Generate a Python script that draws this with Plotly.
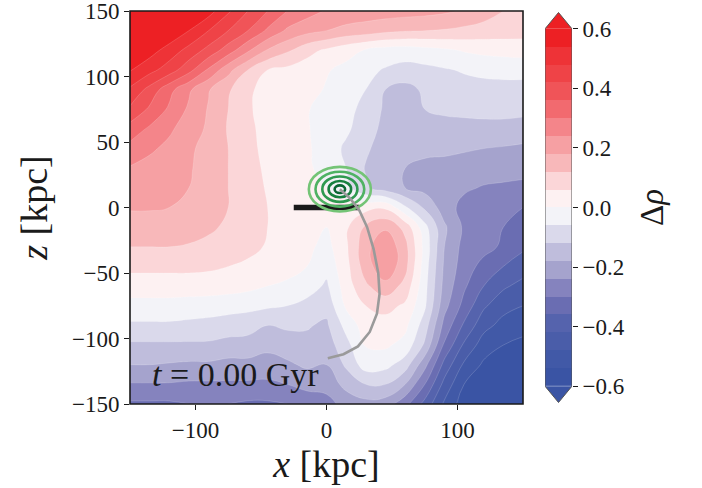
import plotly.graph_objects as go

# ---- density-contrast field on a regular (x, z) grid [kpc] ----
x_kpc = [-150, -135, -120, -105, -90, -75, -60, -45, -30, -15, 0,
         15, 30, 45, 60, 75, 90, 105, 120, 135, 150]
z_kpc = [150, 135, 120, 105, 90, 75, 60, 45, 30, 15, 0,
         -15, -30, -45, -60, -75, -90, -105, -120, -135, -150]

# rows follow z_kpc (top to bottom), columns follow x_kpc (left to right)
delta_rho = [
    [.76, .71, .66, .61, .565, .49, .42, .36, .30, .265, .235, .225, .215, .21, .205, .20, .19, .175, .15, .12, .10],
    [.68, .64, .59, .54, .48, .42, .36, .29, .23, .20, .18, .16, .15, .135, .125, .12, .115, .105, .095, .09, .085],
    [.61, .565, .515, .46, .40, .33, .25, .175, .13, .08, .05, .02, -.005, -.025, -.03, -.02, -.01, .005, .015, .02, .025],
    [.545, .50, .45, .38, .29, .20, .12, .06, .045, .03, .005, -.015, -.045, -.065, -.08, -.075, -.065, -.055, -.045, -.04, -.04],
    [.47, .40, .32, .25, .185, .13, .065, .05, .04, .02, -.005, -.02, -.06, -.12, -.14, -.11, -.085, -.08, -.08, -.08, -.08],
    [.41, .35, .29, .23, .175, .12, .065, .045, .035, .005, -.025, -.04, -.08, -.13, -.15, -.12, -.11, -.105, -.10, -.10, -.10],
    [.335, .29, .25, .21, .17, .115, .07, .045, .035, .005, -.025, -.05, -.09, -.14, -.155, -.15, -.14, -.14, -.14, -.14, -.15],
    [.28, .25, .225, .19, .16, .12, .075, .045, .035, .01, -.03, -.07, -.11, -.15, -.165, -.17, -.17, -.175, -.18, -.185, -.19],
    [.235, .22, .21, .185, .16, .12, .08, .05, .035, .015, -.03, -.06, -.125, -.16, -.18, -.19, -.195, -.20, -.21, -.215, -.22],
    [.21, .20, .195, .18, .155, .12, .085, .055, .035, .02, .00, -.04, -.11, -.15, -.18, -.20, -.215, -.23, -.245, -.25, -.255],
    [.185, .185, .18, .175, .15, .12, .09, .06, .04, .025, .02, .03, .04, .05, -.05, -.13, -.21, -.26, -.28, -.29, -.30],
    [.155, .155, .15, .145, .13, .11, .085, .06, .04, .02, .00, .05, .13, .17, .10, -.04, -.17, -.25, -.27, -.30, -.33],
    [.12, .12, .12, .115, .105, .09, .075, .055, .035, .015, -.02, .05, .16, .23, .14, -.02, -.18, -.26, -.28, -.31, -.35],
    [.075, .075, .075, .075, .07, .06, .05, .035, .02, .00, -.04, .04, .15, .23, .14, -.03, -.19, -.27, -.32, -.36, -.39],
    [.03, .03, .03, .03, .03, .025, .015, .00, -.01, -.03, -.07, .03, .11, .16, .10, -.04, -.20, -.29, -.36, -.41, -.44],
    [-.02, -.02, -.02, -.025, -.03, -.035, -.04, -.05, -.06, -.08, -.10, .01, .06, .08, .05, -.05, -.22, -.32, -.41, -.46, -.48],
    [-.07, -.07, -.07, -.075, -.08, -.09, -.10, -.12, -.11, -.115, -.13, -.04, .03, .035, .015, -.09, -.26, -.37, -.46, -.50, -.52],
    [-.13, -.13, -.13, -.13, -.13, -.14, -.14, -.16, -.15, -.135, -.15, -.08, .005, .01, -.02, -.13, -.31, -.43, -.51, -.54, -.555],
    [-.18, -.18, -.185, -.19, -.19, -.20, -.20, -.21, -.19, -.17, -.18, -.11, -.03, -.04, -.09, -.22, -.38, -.49, -.55, -.58, -.60],
    [-.245, -.245, -.245, -.25, -.25, -.25, -.25, -.25, -.24, -.22, -.22, -.16, -.12, -.12, -.18, -.30, -.44, -.54, -.59, -.62, -.64],
    [-.31, -.31, -.31, -.30, -.30, -.30, -.31, -.31, -.30, -.28, -.26, -.22, -.20, -.21, -.28, -.38, -.49, -.57, -.62, -.65, -.67],
]

# contour levels and band colours (bottom band first)
levels = [-0.6, -0.54, -0.48, -0.42, -0.36, -0.3, -0.24, -0.18, -0.12, -0.06, 0.0,
          0.06, 0.12, 0.18, 0.24, 0.3, 0.36, 0.42, 0.48, 0.54, 0.6]
band_colors = ["#3a54a4", "#4159a7", "#4a5da9", "#5563ad", "#6a6db2", "#8583be",
               "#a5a3cd", "#bfbddc", "#dad9eb", "#f3f3f8", "#fdf1f2", "#fbd6d8",
               "#f8b8ba", "#f6a0a3", "#f4858a", "#f26a6f", "#f05458", "#ef4347",
               "#ee3337", "#ed2024"]
cbar_ticks = [-0.6, -0.4, -0.2, 0.0, 0.2, 0.4, 0.6]

# satellite: elliptical density rings (centre, semi-axes in kpc, colour)
sat_x, sat_z = 10.2, 14.0
ring_a = [23.7, 18.6, 13.4, 8.6, 4.0]
ring_b = [17.0, 13.3, 9.7, 6.2, 2.9]
ring_colors = ["#74c476", "#4fb263", "#2f9950", "#18803f", "#0b6633"]

# orbit track of the satellite
orbit_x = [10.2, 18, 25, 31, 36, 39.5, 40.5, 38.5, 33, 24, 13, 1]
orbit_z = [14, 7, -2, -15, -32, -50, -66, -81, -95, -106, -112, -115]

# host disc seen edge-on
disc_x = [-25, 25]
disc_z = [0, 0]

# ---- layout geometry (paper spans main panel + colour bar) ----
W, H = 702, 488
L, R, T, B = 130, 130, 11, 84
pw = W - L - R
main_frac = 393 / pw
cb_left = 415 / pw

n_band = len(band_colors)
step_scale = []
for j, c in enumerate(band_colors):
    lo = max(0.0, (j - 0.5) / (n_band - 1))
    hi = min(1.0, (j + 0.5) / (n_band - 1))
    step_scale.append([lo, c])
    step_scale.append([hi, c])

FONT = "Liberation Serif, DejaVu Serif, serif"
INK = "#1a1a1a"

fig = go.Figure()

fig.add_trace(go.Contour(
    x=x_kpc, y=z_kpc, z=delta_rho,
    colorscale=step_scale, showscale=False,
    contours=dict(start=levels[1], end=levels[-2], size=0.06, coloring="fill"),
    line=dict(width=0.6, color="rgba(255,255,255,0.28)", smoothing=1.3),
    hoverinfo="skip",
))

fig.add_trace(go.Scatter(
    x=disc_x, y=disc_z, mode="lines",
    line=dict(color=INK, width=5.5), hoverinfo="skip", showlegend=False,
))

# colour bar drawn as its own small panel
fig.add_trace(go.Heatmap(
    x=[0, 1], y=levels, z=[[j] for j in range(n_band)],
    zmin=0, zmax=n_band - 1, colorscale=step_scale, showscale=False,
    xaxis="x2", yaxis="y2", hoverinfo="skip",
))
ext = 0.655
fig.add_trace(go.Scatter(
    x=[0, 0.5, 1, 0], y=[levels[-1], ext, levels[-1], levels[-1]],
    fill="toself", fillcolor=band_colors[-1], mode="lines",
    line=dict(width=0, color=band_colors[-1]),
    xaxis="x2", yaxis="y2", hoverinfo="skip", showlegend=False,
))
fig.add_trace(go.Scatter(
    x=[0, 0.5, 1, 0], y=[levels[0], -ext, levels[0], levels[0]],
    fill="toself", fillcolor=band_colors[0], mode="lines",
    line=dict(width=0, color=band_colors[0]),
    xaxis="x2", yaxis="y2", hoverinfo="skip", showlegend=False,
))
fig.add_trace(go.Scatter(
    x=[0, 0, 0.5, 1, 1, 0.5, 0],
    y=[levels[0], levels[-1], ext, levels[-1], levels[0], -ext, levels[0]],
    mode="lines", line=dict(color="#555555", width=1),
    xaxis="x2", yaxis="y2", hoverinfo="skip", showlegend=False,
))

shapes = []
for a, b, c in zip(ring_a, ring_b, ring_colors):
    shapes.append(dict(type="circle", xref="x", yref="y",
                       x0=sat_x - a, x1=sat_x + a, y0=sat_z - b, y1=sat_z + b,
                       line=dict(color=c, width=2.6)))
orbit_path = "M " + " L ".join(f"{ox},{oz}" for ox, oz in zip(orbit_x, orbit_z))
shapes.append(dict(type="path", xref="x", yref="y", path=orbit_path,
                   line=dict(color="#9a9a9a", width=2.6)))
# panel frame
shapes.append(dict(type="rect", xref="x domain", yref="y domain",
                   x0=0, x1=1, y0=0, y1=1, line=dict(color=INK, width=1.6),
                   fillcolor="rgba(0,0,0,0)"))

tick_font = dict(family=FONT, size=23, color=INK)
fig.update_layout(
    template="none",
    width=W, height=H,
    margin=dict(l=L, r=R, t=T, b=B, pad=0),
    paper_bgcolor="white", plot_bgcolor="white",
    showlegend=False,
    font=dict(family=FONT, color=INK),
    shapes=shapes,
    xaxis=dict(domain=[0, main_frac], range=[-150, 150], automargin=False,
               tickvals=[-100, 0, 100], ticks="outside", ticklen=5, tickwidth=1.3,
               tickcolor=INK, tickfont=tick_font, ticklabeloverflow="allow",
               showline=False, showgrid=False, zeroline=False,
               title=dict(text="<i>x</i> [kpc]", font=dict(family=FONT, size=38, color=INK),
                          standoff=8)),
    yaxis=dict(domain=[0, 1], range=[-150, 150], automargin=False,
               tickvals=[-150, -100, -50, 0, 50, 100, 150], ticks="outside", ticklen=5,
               tickwidth=1.3, tickcolor=INK, tickfont=tick_font, ticklabeloverflow="allow",
               showline=False, showgrid=False, zeroline=False,
               title=dict(text="<i>z</i> [kpc]", font=dict(family=FONT, size=38, color=INK),
                          standoff=12)),
    xaxis2=dict(domain=[cb_left, 1.0], range=[0, 1], anchor="y2", automargin=False,
                showticklabels=False, ticks="", showline=False, showgrid=False,
                zeroline=False, fixedrange=True),
    yaxis2=dict(domain=[0, 1], range=[-0.66, 0.66], anchor="x2", side="right",
                automargin=False, ticklabeloverflow="allow",
                tickvals=cbar_ticks, tickformat=".1f", ticks="outside", ticklen=5,
                tickwidth=1.3, tickcolor=INK, tickfont=tick_font,
                showline=False, showgrid=False, zeroline=False, fixedrange=True,
                title=dict(text="\u0394<i>\u03c1</i>", font=dict(family=FONT, size=33, color=INK),
                           standoff=16)),
    annotations=[dict(x=-135, y=-127.5, xref="x", yref="y", xanchor="left", yanchor="middle",
                      text="<i>t</i> = 0.00 Gyr", showarrow=False,
                      font=dict(family=FONT, size=34, color=INK))],
)

fig.write_html("out.html")
